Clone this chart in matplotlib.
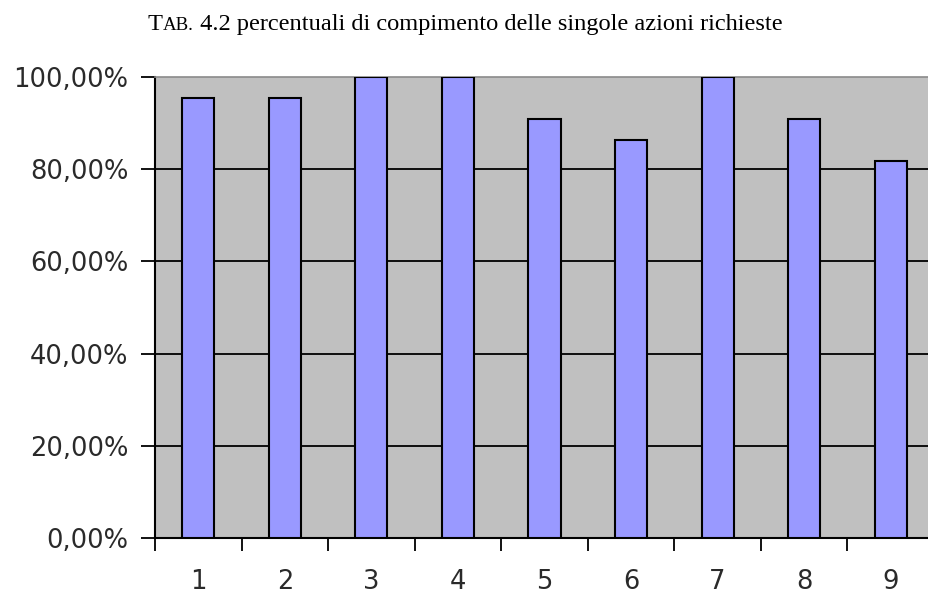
import numpy as np
import matplotlib
matplotlib.use("Agg")
import matplotlib.pyplot as plt
from matplotlib.ticker import FuncFormatter

# share of the 22 participants that completed each requested action
actions = ["1", "2", "3", "4", "5", "6", "7", "8", "9"]
completion = [95.45, 95.45, 100.0, 100.0, 90.91, 86.36, 100.0, 90.91, 81.82]
y_ticks = [0, 20, 40, 60, 80, 100]

fig = plt.figure(figsize=(9.29, 5.97), dpi=100)
ax = fig.add_axes([155 / 929, 59 / 597, 779 / 929, 461 / 597])
ax.set_facecolor("#C0C0C0")

x = np.arange(1, len(actions) + 1)
ax.bar(x, completion, width=0.37, color="#9999FF", edgecolor="black",
       linewidth=1.5, zorder=3)

for v in y_ticks[1:-1]:
    ax.axhline(v, color="black", linewidth=1.3, zorder=1)

ax.set_xlim(0.5, len(actions) + 0.5)
ax.set_ylim(0, 100)

ax.set_yticks(y_ticks)
ax.yaxis.set_major_formatter(FuncFormatter(lambda v, _: f"{v:.2f}".replace(".", ",") + "%"))
ax.tick_params(axis="y", direction="out", length=10, width=1.3, pad=9,
               labelsize=18.5, labelcolor="#2a2a2a")

# category boundaries carry the tick marks, labels sit at the centres
ax.set_xticks(np.arange(0.5, len(actions) + 1, 1.0))
ax.set_xticklabels([])
ax.set_xticks(x, minor=True)
ax.set_xticklabels(actions, minor=True)
ax.tick_params(axis="x", which="major", direction="out", length=9, width=1.3)
ax.tick_params(axis="x", which="minor", length=0, pad=22,
               labelsize=18.5, labelcolor="#2a2a2a")

for side in ("left", "bottom"):
    ax.spines[side].set_color("black")
    ax.spines[side].set_linewidth(1.5)
ax.spines["top"].set_color("#8A8A8A")
ax.spines["top"].set_linewidth(1.2)
ax.spines["right"].set_visible(False)

# title with a small-caps "TAB."
renderer = fig.canvas.get_renderer()
parts = [("T", 17.6), ("AB.", 13.6), (" 4.2 percentuali di compimento delle singole azioni richieste", 17.6)]
tx = 148 / 929
for s, size in parts:
    t = fig.text(tx, 1 - 30 / 597, s, fontsize=size, family="Liberation Serif",
                 va="baseline", ha="left", color="black")
    tx += t.get_window_extent(renderer).width / fig.bbox.width

fig.savefig("out.png", dpi=100)
